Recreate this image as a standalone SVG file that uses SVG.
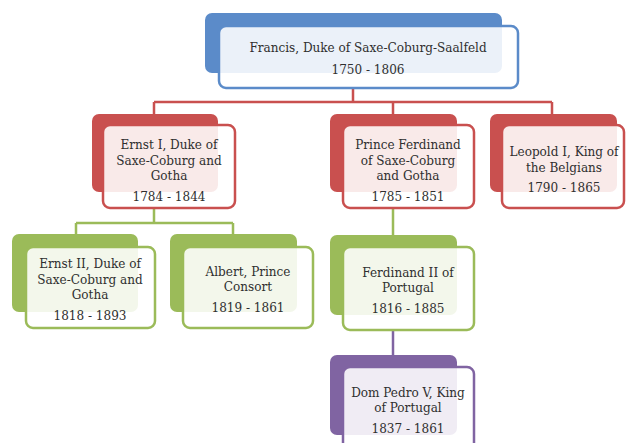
<svg xmlns="http://www.w3.org/2000/svg" width="628" height="443" viewBox="0 0 628 443">
<style>
.t{font-family:"DejaVu Serif Condensed","DejaVu Serif","Liberation Serif",serif;font-stretch:condensed;font-size:13.4px;fill:#2f2f2f;text-anchor:middle}
.bb{fill:#5b8bc9}.fb{fill:#ffffff;fill-opacity:.88;stroke:#5b8bc9;stroke-width:2.5}
.br{fill:#c9504f}.fr{fill:#ffffff;fill-opacity:.88;stroke:#c9504f;stroke-width:2.5}
.bg{fill:#9bbb59}.fg{fill:#ffffff;fill-opacity:.88;stroke:#9bbb59;stroke-width:2.5}
.bp{fill:#8064a2}.fp{fill:#ffffff;fill-opacity:.88;stroke:#8064a2;stroke-width:2.5}
.cr{stroke:#c9504f;stroke-width:2.5;fill:none}
.cg{stroke:#9bbb59;stroke-width:2.5;fill:none}
.cp{stroke:#8064a2;stroke-width:2.5;fill:none}
</style>
<rect width="628" height="443" fill="#ffffff"/>
<g id="connectors">
<path class="cr" d="M353 89V102M154 102H552M154 102V114M393 102V114M552 102V114"/>
<path class="cg" d="M154 208V223M76 223H233M76 223V234M233 223V234M393 208V235"/>
<path class="cp" d="M393 330V355"/>
</g>
<g id="francis">
<rect class="bb" x="205" y="13" width="297" height="60" rx="7"/>
<rect class="fb" x="219" y="26" width="299" height="62" rx="7"/>
<text class="t" x="368" y="52">Francis, Duke of Saxe-Coburg-Saalfeld</text>
<text class="t" x="368" y="74">1750 - 1806</text>
</g>
<g id="ernst1">
<rect class="br" x="92" y="114" width="126" height="78" rx="7"/>
<rect class="fr" x="103" y="125" width="132" height="83" rx="7"/>
<text class="t" x="169" y="149">Ernst I, Duke of</text>
<text class="t" x="169" y="164.5">Saxe-Coburg and</text>
<text class="t" x="169" y="180">Gotha</text>
<text class="t" x="169" y="201">1784 - 1844</text>
</g>
<g id="ferdinand">
<rect class="br" x="330" y="114" width="127" height="78" rx="7"/>
<rect class="fr" x="343" y="125" width="131" height="83" rx="7"/>
<text class="t" x="408" y="149">Prince Ferdinand</text>
<text class="t" x="408" y="164.5">of Saxe-Coburg</text>
<text class="t" x="408" y="180">and Gotha</text>
<text class="t" x="408" y="201">1785 - 1851</text>
</g>
<g id="leopold">
<rect class="br" x="490" y="114" width="127" height="78" rx="7"/>
<rect class="fr" x="502" y="125" width="122" height="83" rx="7"/>
<text class="t" x="564" y="156">Leopold I, King of</text>
<text class="t" x="564" y="171.5">the Belgians</text>
<text class="t" x="564" y="192">1790 - 1865</text>
</g>
<g id="ernst2">
<rect class="bg" x="12" y="234" width="126" height="78" rx="7"/>
<rect class="fg" x="26" y="247" width="129" height="81" rx="7"/>
<text class="t" x="90" y="268">Ernst II, Duke of</text>
<text class="t" x="90" y="283.5">Saxe-Coburg and</text>
<text class="t" x="90" y="299">Gotha</text>
<text class="t" x="90" y="320">1818 - 1893</text>
</g>
<g id="albert">
<rect class="bg" x="170" y="234" width="127" height="78" rx="7"/>
<rect class="fg" x="183" y="247" width="130" height="81" rx="7"/>
<text class="t" x="248" y="276">Albert, Prince</text>
<text class="t" x="248" y="291">Consort</text>
<text class="t" x="248" y="312">1819 - 1861</text>
</g>
<g id="ferdinand2">
<rect class="bg" x="330" y="235" width="127" height="80" rx="7"/>
<rect class="fg" x="343" y="247" width="131" height="83" rx="7"/>
<text class="t" x="408" y="277">Ferdinand II of</text>
<text class="t" x="408" y="292">Portugal</text>
<text class="t" x="408" y="313">1816 - 1885</text>
</g>
<g id="pedro">
<rect class="bp" x="330" y="355" width="127" height="80" rx="7"/>
<rect class="fp" x="343" y="367" width="131" height="83" rx="7"/>
<text class="t" x="408" y="397">Dom Pedro V, King</text>
<text class="t" x="408" y="412">of Portugal</text>
<text class="t" x="408" y="433">1837 - 1861</text>
</g>
</svg>
